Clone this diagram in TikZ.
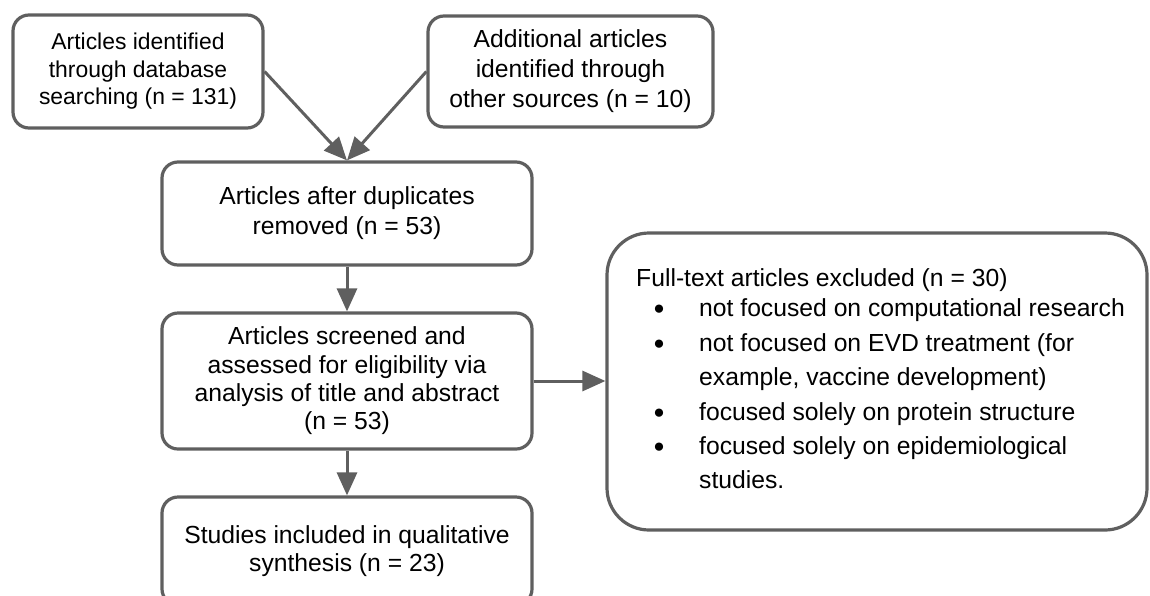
\documentclass[tikz,border=0pt]{standalone}
\usepackage{fontspec}
\setmainfont{Liberation Sans}
\usetikzlibrary{arrows.meta}
\definecolor{lc}{RGB}{95,95,95}
\begin{document}
\begin{tikzpicture}[x=1pt,y=-1pt,
  box/.style={draw=lc,line width=3.2pt,rounded corners=16pt,inner sep=0pt,align=center,
    font=\fontsize{24.7}{30}\selectfont},
  arr/.style={draw=lc,line width=3pt,-{Triangle[length=23pt,width=20pt]}},
  txt/.style={inner sep=0pt,font=\fontsize{24.7}{30}\selectfont},
  bul/.style={inner sep=0pt,font=\fontsize{19}{20}\selectfont}]
\useasboundingbox (0,0) rectangle (1150,595);
\node[box,minimum width=250pt,minimum height=113pt,font=\fontsize{22.9}{27.5}\selectfont] (a) at (138,71.5)
  {Articles identified\\through database\\searching (n = 131)};
\node[box,minimum width=285pt,minimum height=111pt] (b) at (570.5,71.5)
  {Additional articles\\identified through\\other sources (n = 10)};
\node[box,minimum width=370pt,minimum height=103pt] (c) at (347,213.5)
  {Articles after duplicates\\removed (n = 53)};
\node[box,minimum width=370pt,minimum height=136pt,font=\fontsize{24.7}{28.3}\selectfont] (d) at (347,381)
  {Articles screened and\\assessed for eligibility via\\analysis of title and abstract\\(n = 53)};
\node[box,minimum width=370pt,minimum height=108pt,font=\fontsize{24.7}{28.3}\selectfont] (e) at (347,551)
  {Studies included in qualitative\\synthesis (n = 23)};
\node[box,rounded corners=42pt,minimum width=540pt,minimum height=297pt] (f) at (877,381.5) {};
\node[txt,anchor=base west] (h) at (636,286) {Full-text articles excluded (n = 30)};
\node[bul,anchor=base] (b1) at (659,314) {●};
\node[txt,anchor=base west] (t1) at (699,316) {not focused on computational research};
\node[bul,anchor=base] (b2) at (659,349) {●};
\node[txt,anchor=base west] (t2) at (699,351) {not focused on EVD treatment (for};
\node[txt,anchor=base west] (t2b) at (699,385) {example, vaccine development)};
\node[bul,anchor=base] (b3) at (659,418) {●};
\node[txt,anchor=base west] (t3) at (699,420) {focused solely on protein structure};
\node[bul,anchor=base] (b4) at (659,452) {●};
\node[txt,anchor=base west] (t4) at (699,454) {focused solely on epidemiological};
\node[txt,anchor=base west] (t4b) at (699,488) {studies.};
\draw[arr] (a.east) -- (c.north);
\draw[arr] (b.west) -- (c.north);
\draw[arr] (c.south) -- (d.north);
\draw[arr] (d.south) -- (e.north);
\draw[arr] (d.east) -- (d.east -| f.west);
\end{tikzpicture}
\end{document}
